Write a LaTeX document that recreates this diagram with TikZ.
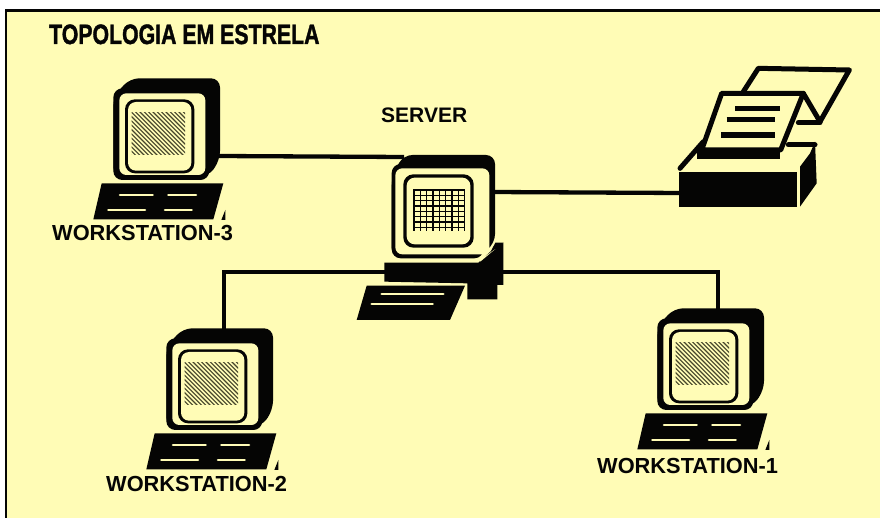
\documentclass[tikz,border=0pt]{standalone}
\usepackage{fontspec}
\setmainfont{Liberation Sans}
\newfontfamily\titlefont[FakeBold=1.6]{Liberation Sans Bold}
\definecolor{paperyellow}{HTML}{FFFCB6}
\definecolor{ink}{HTML}{050504}
\definecolor{hatchink}{HTML}{45452A}
\tikzset{
  wire/.style={draw=ink,line width=4.3pt},
  blackfill/.style={fill=ink,draw=none},
  yellowfill/.style={fill=paperyellow,draw=none},
  keyline/.style={draw=paperyellow,line width=2.6pt,line cap=round},
  prn/.style={draw=ink,line width=5pt,line cap=round,line join=round},
  prntext/.style={draw=ink,line width=5.4pt},
  caption/.style={font=\fontsize{21.8}{24}\selectfont\bfseries,text=ink,inner sep=0pt,anchor=base west},
  pics/workstation/.style={code={
    \begin{scope}[x=0.33333pt,y=-0.33333pt]
      % back of the monitor
      \path[blackfill,rounded corners=9pt] (100,110) -- (150,55) -- (420,55) -- (420,300) -- (385,350) -- (100,350) -- cycle;
      \path[blackfill,rounded corners=9pt] (100,85) rectangle (388,360);
      \path[yellowfill,rounded corners=7pt] (118,100) rectangle (376,345);
      \path[blackfill,rounded corners=10pt] (135,118) rectangle (343,340);
      \path[yellowfill,rounded corners=8pt] (144,126) rectangle (334,332);
      \begin{scope}
        \clip (155,157) rectangle (315,285);
        \foreach \d in {-150,-137,...,170}
          \draw[hatchink,line width=1.1pt] (155+\d,150) -- (155+\d+145,295);
      \end{scope}
      % keyboard
      \path[blackfill] (65,370) -- (430,370) -- (400,478) -- (40,478) -- cycle;
      \draw[keyline] (120,405) -- (218,405);
      \draw[keyline] (265,405) -- (348,405);
      \draw[keyline] (85,450) -- (195,450);
      \draw[keyline] (255,450) -- (335,450);
      \path[blackfill] (424,480) -- (436,480) -- (436,450) -- cycle;
    \end{scope}
  }}
}
\begin{document}
\begin{tikzpicture}[x=1pt,y=-1pt]
\useasboundingbox (0,0) rectangle (880,518);
\fill[white] (0,0) rectangle (880,518);
\fill[paperyellow] (6,10) rectangle (880,518);
\draw[ink,line width=2.6pt] (6,518) -- (6,10.5) -- (880,10.5);

% ports for the connectors
\coordinate (ws3port) at (218,156);
\coordinate (srvtop) at (404,157);
\coordinate (srvright) at (492,192);
\coordinate (prnport) at (682,193);
\coordinate (srvleft) at (388,272);
\coordinate (srvback) at (500,272);
\coordinate (ws2port) at (224,332);
\coordinate (ws1port) at (718,312);

% connectors
\draw[wire] (ws3port) -- (srvtop);
\draw[wire] (srvright) -- (prnport);
\draw[wire] (srvleft) -| (ws2port);
\draw[wire] (srvback) -| (ws1port);

% workstations
\pic (ws3) at (80,60) {workstation};
\pic (ws2) at (133,310) {workstation};
\pic (ws1) at (624,290) {workstation};

% server
\begin{scope}[shift={(350,140)},x=0.33333pt,y=-0.33333pt]
  \path[blackfill,rounded corners=9pt] (125,110) -- (160,45) -- (435,45) -- (435,310) -- (385,350) -- (125,350) -- cycle;
  \path[blackfill,rounded corners=9pt] (125,72) rectangle (400,355);
  \path[yellowfill,rounded corners=7pt] (136,85) rectangle (418,343);
  \path[blackfill,rounded corners=10pt] (160,103) rectangle (371,323);
  \path[yellowfill,rounded corners=8pt] (170,113) rectangle (361,313);
  \foreach \gx in {192,211,...,344}
    \draw[ink,line width=1.5pt] (\gx,148) -- (\gx,272);
  \foreach \gy in {150,166,...,272}
    \draw[ink,line width=1.5pt] (190,\gy) -- (342,\gy);
  % system unit
  \path[blackfill] (103,368) -- (385,368) -- (432,325) -- (460,308) -- (460,435) -- (442,435) -- (442,478) -- (352,478) -- (352,430) -- (103,425) -- cycle;
  \path[blackfill] (418,343) -- (436,308) -- (460,308) -- (436,330) -- cycle;
  \path[yellowfill] (375,361) -- (405,349) -- (436,327) -- (392,364) -- cycle;
  % keyboard
  \path[blackfill] (50,437) -- (345,437) -- (300,540) -- (20,540) -- cycle;
  \draw[keyline] (95,462) -- (280,462);
  \draw[keyline] (65,492) -- (248,492);
\end{scope}

% printer
\begin{scope}[shift={(660,50)},x=0.33333pt,y=-0.33333pt]
  \path[blackfill] (58,365) rectangle (412,472);
  \path[blackfill] (420,350) -- (450,310) -- (465,275) -- (470,400) -- (420,470) -- cycle;
  \draw[prn] (60,355) -- (130,275);
  \draw[prn] (385,285) -- (465,285);
  \path[blackfill] (112,298) rectangle (360,328);
  \draw[prn] (250,125) -- (295,55) -- (568,60) -- (480,215) -- (430,130);
  \draw[prn] (480,218) -- (415,218);
  \draw[prn] (185,130) -- (430,130) -- (362,300) -- (125,300) -- cycle;
  \draw[prntext] (225,175) -- (360,175);
  \draw[prntext] (200,208) -- (345,208);
  \draw[prntext] (183,255) -- (345,255);
\end{scope}

% texts
\node[inner sep=0pt,anchor=base west,xscale=0.76,font=\fontsize{28}{30}\titlefont,text=ink] (title) at (49,44) {TOPOLOGIA EM ESTRELA};
\node[caption,font=\fontsize{21}{24}\selectfont\bfseries] (server) at (381,123) {SERVER};
\node[caption] (l3) at (52,241) {WORKSTATION-3};
\node[caption] (l2) at (106,491) {WORKSTATION-2};
\node[caption] (l1) at (597,473) {WORKSTATION-1};
\end{tikzpicture}
\end{document}
